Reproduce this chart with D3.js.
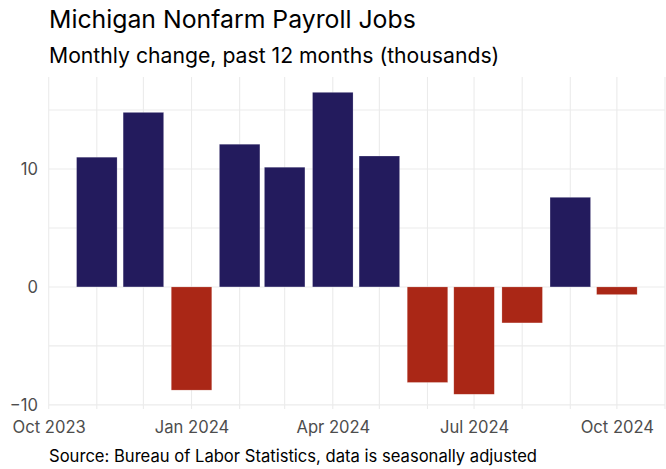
<!DOCTYPE html>
<html>
<head>
<meta charset="utf-8">
<script src="https://cdn.jsdelivr.net/npm/d3@7"></script>
<style>
  body { margin: 0; background: #ffffff; }
  svg { display: block; font-family: Inter, "Noto Sans", sans-serif; }
</style>
</head>
<body>
<script>
// Michigan nonfarm payroll, monthly change (thousands).
const months = ['2023-11', '2023-12', '2024-01', '2024-02', '2024-03', '2024-04',
                '2024-05', '2024-06', '2024-07', '2024-08', '2024-09', '2024-10'];
const changes = [11.0, 14.8, -8.75, 12.1, 10.15, 16.5, 11.1, -8.1, -9.1, -3.05, 7.6, -0.65];
const xTickLabels = ['Oct 2023', 'Jan 2024', 'Apr 2024', 'Jul 2024', 'Oct 2024'];
const yTicks = [-10, 0, 10];
const yMinorTicks = [-5, 5, 15];

const parseMonth = d3.timeParse('%Y-%m');
const parseLabel = d3.timeParse('%b %Y');
const data = months.map((m, i) => ({date: parseMonth(m), value: changes[i]}));

const width = 666, height = 469;
const plot = {left: 48.7, right: 665, top: 77, bottom: 409};

const svg = d3.select('body')
  .append('svg')
  .attr('width', width)
  .attr('height', height);

const x = d3.scaleTime()
  .domain([new Date(2023, 9, 1), new Date(2024, 10, 1)])
  .range([plot.left, plot.right]);

const y = d3.scaleLinear()
  .domain([-10.35, 17.8])
  .range([plot.bottom, plot.top]);

// Grid lines.
const grid = svg.append('g').attr('class', 'grid');
grid.selectAll('line.hgrid')
  .data(yTicks.concat(yMinorTicks))
  .enter()
  .append('line')
  .attr('x1', plot.left)
  .attr('x2', plot.right)
  .attr('y1', d => y(d))
  .attr('y2', d => y(d))
  .style('stroke', '#ebebeb')
  .style('stroke-width', 1.1);

grid.selectAll('line.vgrid')
  .data(d3.timeMonth.range(new Date(2023, 9, 1), new Date(2024, 10, 2)))
  .enter()
  .append('line')
  .attr('x1', d => x(d))
  .attr('x2', d => x(d))
  .attr('y1', plot.top)
  .attr('y2', plot.bottom)
  .style('stroke', '#ebebeb')
  .style('stroke-width', 1.1);

// Bars, 0.9 of the shortest month wide.
const halfBar = 26.1 / 2 * 864e5;
svg.append('g')
  .selectAll('rect')
  .data(data)
  .enter()
  .append('rect')
  .attr('x', d => x(new Date(+d.date - halfBar)))
  .attr('width', d => x(new Date(+d.date + halfBar)) - x(new Date(+d.date - halfBar)))
  .attr('y', d => y(Math.max(0, d.value)))
  .attr('height', d => Math.abs(y(d.value) - y(0)))
  .style('fill', d => d.value >= 0 ? '#231b5d' : '#aa2716')
  .style('stroke', '#ffffff')
  .style('stroke-opacity', 0.35)
  .style('stroke-width', 0.6);

// Axes (labels only).
const xAxis = d3.axisBottom(x)
  .tickValues(xTickLabels.map(parseLabel))
  .tickFormat(d3.timeFormat('%b %Y'))
  .tickSize(0)
  .tickPadding(0);

svg.append('g')
  .attr('transform', 'translate(0,' + 421.5 + ')')
  .call(xAxis)
  .call(g => g.select('.domain').remove())
  .selectAll('text')
  .attr('dy', '0.71em')
  .style('font-size', '16.6px')
  .style('font-family', 'Inter, sans-serif')
  .style('fill', '#4d4d4d');

const yAxis = d3.axisLeft(y)
  .tickValues(yTicks)
  .tickSize(0)
  .tickPadding(0);

svg.append('g')
  .attr('transform', 'translate(' + 38 + ',0)')
  .call(yAxis)
  .call(g => g.select('.domain').remove())
  .selectAll('text')
  .style('font-size', '16.6px')
  .style('font-family', 'Inter, sans-serif')
  .style('fill', '#4d4d4d');

// Titles.
svg.append('text')
  .attr('x', 49)
  .attr('y', 28)
  .style('font-size', '24.8px')
  .style('fill', '#000000')
  .text('Michigan Nonfarm Payroll Jobs');

svg.append('text')
  .attr('x', 49)
  .attr('y', 63)
  .style('font-size', '21.2px')
  .style('fill', '#000000')
  .text('Monthly change, past 12 months (thousands)');

svg.append('text')
  .attr('x', 49)
  .attr('y', 462)
  .style('font-size', '16.6px')
  .style('fill', '#000000')
  .text('Source: Bureau of Labor Statistics, data is seasonally adjusted');
</script>
</body>
</html>
